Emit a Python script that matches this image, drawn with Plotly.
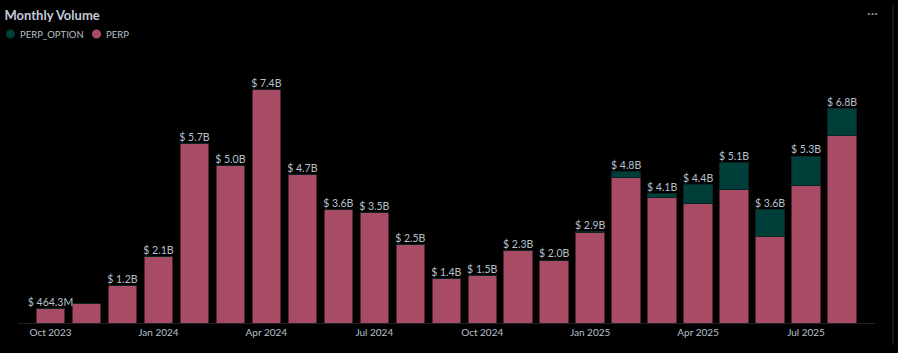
import plotly.graph_objects as go

months = ["Oct 2023", "Nov 2023", "Dec 2023", "Jan 2024", "Feb 2024", "Mar 2024", "Apr 2024",
          "May 2024", "Jun 2024", "Jul 2024", "Aug 2024", "Sep 2024", "Oct 2024", "Nov 2024",
          "Dec 2024", "Jan 2025", "Feb 2025", "Mar 2025", "Apr 2025", "May 2025", "Jun 2025",
          "Jul 2025", "Aug 2025"]
perp = [0.4643, 0.63, 1.2, 2.1, 5.7, 5.0, 7.4, 4.7, 3.6, 3.5, 2.5, 1.4, 1.5, 2.3,
        1.97, 2.86, 4.62, 4.0, 3.78, 4.23, 2.74, 4.38, 5.96]
perp_option = [0, 0, 0, 0, 0, 0, 0, 0, 0, 0, 0, 0, 0, 0,
               0.03, 0.04, 0.18, 0.1, 0.62, 0.87, 0.86, 0.92, 0.84]
label_shown = [True, False] + [True] * 21
tick_labels = ["Oct 2023", "Jan 2024", "Apr 2024", "Jul 2024", "Oct 2024", "Jan 2025",
               "Apr 2025", "Jul 2025"]
legend_names = ["PERP_OPTION", "PERP"]

PINK = "#a84c66"
TEAL = "#003e3a"
TXT = "#b9c0cc"

totals = [p + o for p, o in zip(perp, perp_option)]


def fmt(v):
    if v < 1:
        return f"$ {v * 1000:.1f}M"
    return f"$ {v:.1f}B"


labels = [fmt(t) if s else "" for t, s in zip(totals, label_shown)]

W, H = 898, 353
L, R, T, B = 18, 23, 60, 30
PW, PH = W - L - R, H - T - B


def px(x):
    return (x - L) / PW


def py(y):
    return (H - B - y) / PH


fig = go.Figure()
fig.add_bar(x=months, y=perp, name="PERP", marker=dict(color=PINK, line=dict(color="#5a2232", width=1)),
            showlegend=False)
fig.add_bar(x=months, y=perp_option, name="PERP_OPTION",
            marker=dict(color=TEAL, line=dict(color="#0a2624", width=1)), showlegend=False)
fig.add_scatter(x=months, y=totals, mode="text", text=labels, textposition="top center",
                textfont=dict(color=TXT, size=10.5, family="Lato"), showlegend=False, hoverinfo="skip")

fig.update_layout(
    width=W, height=H,
    margin=dict(l=L, r=R, t=T, b=B),
    paper_bgcolor="#000000", plot_bgcolor="#000000",
    barmode="stack", bargap=0.21,
    font=dict(family="Lato", color=TXT),
    title=dict(text="Monthly Volume", x=0.005, xref="container", y=(H - 11) / H, yref="container",
               yanchor="top", xanchor="left",
               font=dict(size=13, color="#c4cad6", family="Lato", weight="bold")),
    showlegend=False,
)
fig.update_xaxes(type="category", range=[-0.903, 22.917], tickmode="array",
                 tickvals=tick_labels, ticktext=tick_labels, showgrid=False,
                 showline=True, linecolor="#222222", linewidth=1, ticks="",
                 tickfont=dict(size=10, color=TXT, family="Lato"), zeroline=False)
fig.update_yaxes(range=[0, 8.35], visible=False, showgrid=False, zeroline=False)

# manual legend (circle markers close to text)
leg_colors = [TEAL, PINK]
leg_x = [10.5, 96.5]
LY = 34
for name, col, cx in zip(legend_names, leg_colors, leg_x):
    fig.add_shape(type="circle", xref="paper", yref="paper",
                  x0=px(cx - 4.6), x1=px(cx + 4.6), y0=py(LY + 4.6), y1=py(LY - 4.6),
                  fillcolor=col, line=dict(width=0))
    fig.add_annotation(text=name, xref="paper", yref="paper", x=px(cx + 7), y=py(LY),
                       xanchor="left", yanchor="middle", showarrow=False,
                       font=dict(size=9.5, color=TXT, family="Lato"))

fig.add_shape(type="line", xref="paper", yref="paper", x0=px(893), x1=px(893),
              y0=py(345), y1=py(5), line=dict(color="#2a2a2a", width=1))
fig.add_annotation(text="···", xref="paper", yref="paper", x=px(872), y=py(13),
                   xanchor="center", yanchor="middle", showarrow=False,
                   font=dict(size=14, color="#8a909a"))

fig.write_html("out.html")
